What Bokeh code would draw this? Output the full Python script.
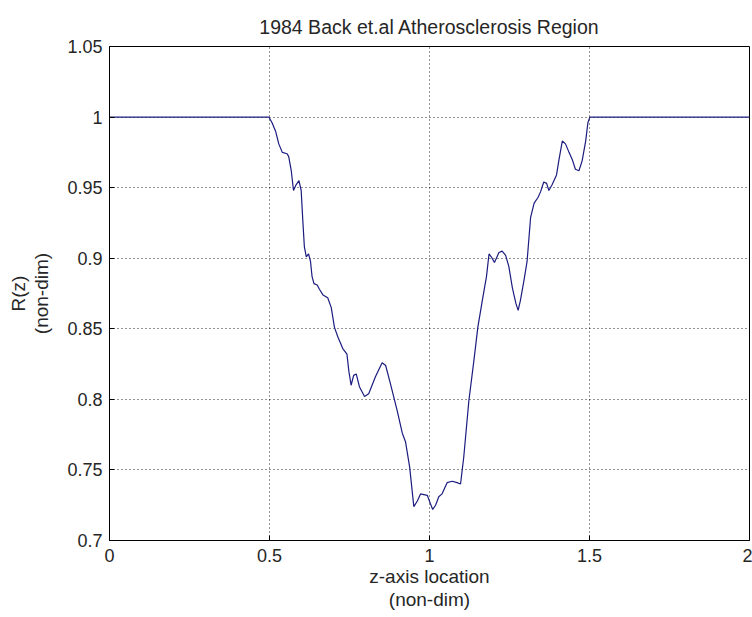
from bokeh.plotting import figure
from bokeh.models import FixedTicker, Range1d
from bokeh.embed import file_html
from bokeh.resources import INLINE

# ---- data ----
z = [0.0, 0.498, 0.508, 0.519, 0.529, 0.540, 0.555, 0.560, 0.568, 0.575,
     0.583, 0.592, 0.599, 0.604, 0.609, 0.615, 0.622, 0.628, 0.633, 0.639,
     0.649, 0.656, 0.667, 0.682, 0.693, 0.703, 0.714, 0.729, 0.742, 0.748,
     0.755, 0.763, 0.771, 0.781, 0.797, 0.810, 0.831, 0.852, 0.863, 0.878,
     0.899, 0.915, 0.925, 0.938, 0.951, 0.962, 0.972, 0.993, 1.003, 1.010,
     1.019, 1.029, 1.039, 1.055, 1.071, 1.086, 1.097, 1.107, 1.123, 1.139,
     1.151, 1.165, 1.178, 1.186, 1.193, 1.203, 1.217, 1.227, 1.238, 1.248,
     1.259, 1.270, 1.277, 1.284, 1.295, 1.305, 1.316, 1.327, 1.339, 1.347,
     1.357, 1.366, 1.373, 1.383, 1.397, 1.404, 1.415, 1.425, 1.436, 1.446,
     1.456, 1.467, 1.477, 1.488, 1.495, 1.501, 2.0]
R = [1.000, 1.000, 0.996, 0.990, 0.981, 0.975, 0.974, 0.972, 0.962, 0.948,
     0.952, 0.955, 0.948, 0.927, 0.908, 0.901, 0.903, 0.898, 0.887, 0.882,
     0.881, 0.878, 0.874, 0.872, 0.865, 0.851, 0.844, 0.836, 0.832, 0.820,
     0.810, 0.817, 0.818, 0.809, 0.802, 0.804, 0.816, 0.826, 0.824, 0.811,
     0.792, 0.776, 0.770, 0.752, 0.724, 0.728, 0.733, 0.732, 0.726, 0.722,
     0.725, 0.731, 0.733, 0.741, 0.742, 0.741, 0.740, 0.759, 0.799, 0.828,
     0.851, 0.870, 0.887, 0.903, 0.901, 0.897, 0.904, 0.905, 0.902, 0.894,
     0.879, 0.868, 0.863, 0.870, 0.884, 0.898, 0.929, 0.939, 0.943, 0.947,
     0.954, 0.953, 0.948, 0.952, 0.959, 0.969, 0.983, 0.981, 0.975, 0.970,
     0.963, 0.962, 0.969, 0.983, 0.996, 1.000, 1.000]

x_ticks = [0, 0.5, 1, 1.5, 2]
x_tick_labels = ["0", "0.5", "1", "1.5", "2"]
y_ticks = [0.7, 0.75, 0.8, 0.85, 0.9, 0.95, 1.0, 1.05]
y_tick_labels = ["0.7", "0.75", "0.8", "0.85", "0.9", "0.95", "1", "1.05"]

title_text = "1984 Back et.al Atherosclerosis Region"
x_label = "z-axis location\n(non-dim)"
y_label = "R(z)\n(non-dim)"

FONT = "Liberation Sans"
TXT = "#262626"

p = figure(width=752, height=617, output_backend="svg", toolbar_location=None,
           x_range=Range1d(0, 2), y_range=Range1d(0.7, 1.05),
           min_border_left=109, min_border_right=3, min_border_top=46,
           min_border_bottom=77, title=title_text)

p.title.align = "center"
p.title.text_font = FONT
p.title.text_font_size = "19.5px"
p.title.text_font_style = "normal"
p.title.text_color = TXT
p.title.standoff = 18

p.background_fill_color = "white"
p.border_fill_color = "white"
p.outline_line_color = "black"
p.outline_line_width = 1

p.line(z, R, line_color="#1c1c80", line_width=1.2)

for ax in (p.xaxis[0], p.yaxis[0]):
    ax.axis_line_color = "black"
    ax.major_tick_in = 5
    ax.major_tick_out = 0
    ax.minor_tick_line_color = None
    ax.major_label_text_font = FONT
    ax.major_label_text_font_size = "18px"
    ax.major_label_text_color = TXT
    ax.axis_label_text_font = FONT
    ax.axis_label_text_font_size = "19px"
    ax.axis_label_text_font_style = "normal"
    ax.axis_label_text_color = TXT
    ax.axis_label_text_line_height = 1.1

p.xaxis.ticker = FixedTicker(ticks=x_ticks)
p.xaxis.major_label_overrides = dict(zip(x_ticks, x_tick_labels))
p.yaxis.ticker = FixedTicker(ticks=y_ticks)
p.yaxis.major_label_overrides = dict(zip(y_ticks, y_tick_labels))
p.xaxis.axis_label = x_label
p.yaxis.axis_label = y_label
p.xaxis.major_label_standoff = 8
p.yaxis.major_label_standoff = 7
p.xaxis.axis_label_standoff = 1
p.yaxis.axis_label_standoff = 12

p.xgrid.ticker = FixedTicker(ticks=x_ticks)
p.ygrid.ticker = FixedTicker(ticks=y_ticks)
for g in (p.xgrid[0], p.ygrid[0]):
    g.grid_line_color = "black"
    g.grid_line_dash = "1 3"
    g.grid_line_width = 1
    g.grid_line_alpha = 0.85

open("out.html", "w").write(file_html(p, INLINE))
